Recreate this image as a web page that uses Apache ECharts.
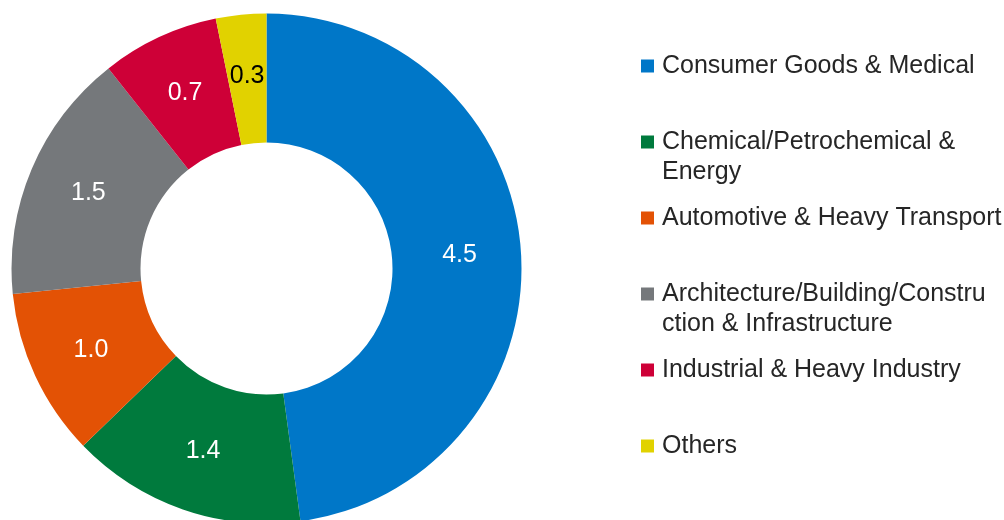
<!DOCTYPE html>
<html>
<head>
<meta charset="utf-8">
<script src="https://cdn.jsdelivr.net/npm/echarts@6/dist/echarts.min.js"></script>
<style>html,body{margin:0;padding:0;background:#fff}#c{width:1004px;height:520px}</style>
</head>
<body>
<div id="c"></div>
<script>
const categories = ['Consumer Goods & Medical', 'Chemical/Petrochemical & Energy', 'Automotive & Heavy Transport', 'Architecture/Building/Construction & Infrastructure', 'Industrial & Heavy Industry', 'Others'];
const legendText = ['Consumer Goods & Medical', 'Chemical/Petrochemical &\nEnergy', 'Automotive & Heavy Transport', 'Architecture/Building/Constru\nction & Infrastructure', 'Industrial & Heavy Industry', 'Others'];
const values = [4.5, 1.4, 1.0, 1.5, 0.7, 0.3];
const colors = ['#0077C8', '#007A3D', '#E35205', '#75787B', '#CE0037', '#E1D200'];
const labelColors = ['#fff', '#fff', '#fff', '#fff', '#fff', '#000'];

const FONT = 'Liberation Sans, Arial, sans-serif';
const chart = echarts.init(document.getElementById('c'));
chart.setOption({
  animation: false,
  legend: {
    orient: 'vertical',
    left: 641,
    top: 21,
    padding: 0,
    itemGap: -14,
    itemWidth: 13,
    itemHeight: 13,
    icon: 'rect',
    data: categories.map(n => ({ name: n })),
    formatter: name => {
      const t = legendText[categories.indexOf(name)];
      return t.includes('\n') ? ' \n' + t : ' \n' + t + '\n ';
    },
    textStyle: { fontFamily: FONT, fontSize: 25, color: '#262626', lineHeight: 30, padding: [0, 0, 0, 3] }
  },
  series: [{
    type: 'pie',
    center: [266.5, 268.5],
    radius: [126, 255],
    startAngle: 90,
    clockwise: true,
    avoidLabelOverlap: false,
    label: {
      show: true,
      position: 'inside',
      fontFamily: FONT,
      fontSize: 25,
      formatter: p => p.value.toFixed(1)
    },
    labelLine: { show: false },
    emphasis: { disabled: true },
    data: categories.map((n, i) => ({
      name: n,
      value: values[i],
      itemStyle: { color: colors[i] },
      label: { color: labelColors[i] }
    }))
  }]
});
</script>
</body>
</html>
